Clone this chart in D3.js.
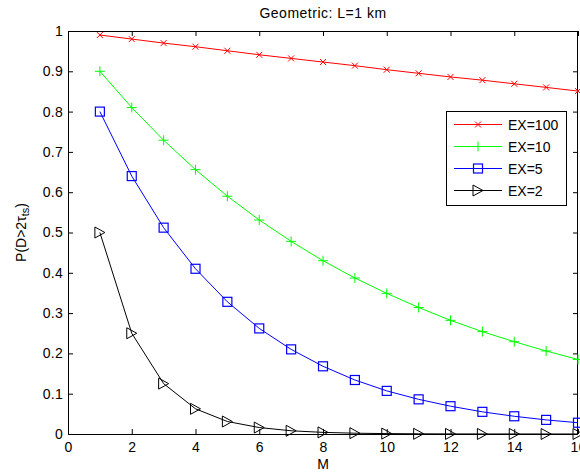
<!DOCTYPE html>
<html><head><meta charset="utf-8">
<script src="https://cdn.jsdelivr.net/npm/d3@7"></script>
<style>
html,body{margin:0;padding:0;background:#fff;}
svg{display:block;font-family:"Liberation Sans",Arial,Helvetica,sans-serif;}
</style></head>
<body>
<svg id="chart" width="580" height="475"></svg>
<script>
const M = [1,2,3,4,5,6,7,8,9,10,11,12,13,14,15,16];
const ex100 = [0.990,0.980,0.970,0.961,0.951,0.941,0.932,0.923,0.914,0.904,0.895,0.886,0.878,0.869,0.860,0.851];
const ex10  = [0.900,0.810,0.729,0.656,0.590,0.531,0.478,0.430,0.387,0.349,0.314,0.282,0.254,0.229,0.206,0.185];
const ex5   = [0.800,0.640,0.512,0.410,0.328,0.262,0.210,0.168,0.134,0.107,0.086,0.069,0.055,0.044,0.035,0.028];
const ex2   = [0.500,0.250,0.125,0.0625,0.031,0.016,0.008,0.004,0.002,0.001,0.0005,0.0002,0.0001,0.0001,0.00003,0.00002];
const seriesNames = ["EX=100","EX=10","EX=5","EX=2"];
const xTicks = [0,2,4,6,8,10,12,14,16];
const yTicks = [0,0.1,0.2,0.3,0.4,0.5,0.6,0.7,0.8,0.9,1];
const titleText = "Geometric: L=1 km";

const series = [
  {name: seriesNames[0], values: ex100, color: "#ff0000", marker: "x"},
  {name: seriesNames[1], values: ex10,  color: "#00ff00", marker: "plus"},
  {name: seriesNames[2], values: ex5,   color: "#0000ff", marker: "square"},
  {name: seriesNames[3], values: ex2,   color: "#000000", marker: "tri"}
];

const L = 68, R = 578, T = 31, B = 434;
const svg = d3.select("#chart");
svg.append("rect").attr("width",580).attr("height",475).attr("fill","#fff");

const x = d3.scaleLinear().domain([0,16]).range([L,R]);
const y = d3.scaleLinear().domain([0,1]).range([B,T]);

const fs = 14;
const g = svg.append("g");
const tickLen = 5;
const xAxisB = d3.axisBottom(x).tickValues(xTicks).tickSizeInner(-tickLen).tickSizeOuter(0).tickPadding(8).tickFormat(d3.format("d"));
const xAxisT = d3.axisTop(x).tickValues(xTicks).tickSizeInner(-tickLen).tickSizeOuter(0).tickFormat("");
const yAxisL = d3.axisLeft(y).tickValues(yTicks).tickSizeInner(-tickLen).tickSizeOuter(0).tickPadding(5).tickFormat(d => d===0||d===1 ? d3.format("d")(d) : d3.format(".1f")(d));
const yAxisR = d3.axisRight(y).tickValues(yTicks).tickSizeInner(-tickLen).tickSizeOuter(0).tickFormat("");

function style(sel){
  sel.selectAll("path.domain").remove();
  sel.selectAll("line").attr("stroke","#000").attr("stroke-width",1);
  sel.selectAll("text").attr("fill","#000").style("font-size",fs+"px").style("font-family","'Liberation Sans',Arial,sans-serif").style("letter-spacing","0.3px");
}
g.append("g").attr("transform",`translate(0,${B})`).call(xAxisB).call(style);
g.append("g").attr("transform",`translate(0,${T})`).call(xAxisT).call(style);
g.append("g").attr("transform",`translate(${L},0)`).call(yAxisL).call(style);
g.append("g").attr("transform",`translate(${R},0)`).call(yAxisR).call(style);
g.append("rect").attr("x",L+0.5).attr("y",T+0.5).attr("width",R-L-1).attr("height",B-T)
  .attr("fill","none").attr("stroke","#000").attr("stroke-width",1);

function drawMarker(sel, type, color, cx, cy){
  if(type==="x"){
    const a=3;
    sel.append("path").attr("d",`M${cx-a},${cy-a}L${cx+a},${cy+a}M${cx-a},${cy+a}L${cx+a},${cy-a}`)
      .attr("stroke",color).attr("stroke-width",1).attr("fill","none");
  } else if(type==="plus"){
    const a=5;
    sel.append("path").attr("d",`M${cx-a},${cy}L${cx+a},${cy}M${cx},${cy-a}L${cx},${cy+a}`)
      .attr("stroke",color).attr("stroke-width",1).attr("fill","none");
  } else if(type==="square"){
    const a=4.5;
    sel.append("rect").attr("x",cx-a).attr("y",cy-a).attr("width",2*a).attr("height",2*a)
      .attr("stroke",color).attr("stroke-width",1.2).attr("fill","none");
  } else if(type==="tri"){
    const w=5, h=5.5;
    sel.append("path").attr("d",`M${cx-w},${cy-h}L${cx+w},${cy}L${cx-w},${cy+h}Z`)
      .attr("stroke",color).attr("stroke-width",1).attr("fill","none");
  }
}

const line = d3.line().x(d=>x(d[0])).y(d=>y(d[1]));
series.forEach(s=>{
  const pts = M.map((m,i)=>[m,s.values[i]]);
  const sg = svg.append("g");
  sg.append("path").attr("d",line(pts)).attr("fill","none").attr("stroke",s.color).attr("stroke-width",1);
  pts.forEach(p=>drawMarker(sg, s.marker, s.color, x(p[0]), y(p[1])));
});

const lg = svg.append("g");
lg.append("rect").attr("x",446.5).attr("y",111.5).attr("width",120).attr("height",94)
  .attr("fill","#fff").attr("stroke","#000").attr("stroke-width",1);
const rowY = [124,146,168,190];
series.forEach((s,i)=>{
  const yy = rowY[i]+0.5;
  lg.append("line").attr("x1",454).attr("x2",502).attr("y1",yy).attr("y2",yy).attr("stroke",s.color).attr("stroke-width",1);
  drawMarker(lg, s.marker, s.color, 478, yy);
  lg.append("text").attr("x",508).attr("y",yy).attr("dy","0.36em").attr("fill","#000")
    .style("font-size",fs+"px").text(s.name);
});

svg.append("text").attr("x",(L+R)/2).attr("y",18).attr("text-anchor","middle").attr("fill","#000")
  .style("font-size",fs+"px").style("letter-spacing","0.5px").text(titleText);
svg.append("text").attr("x",(L+R)/2).attr("y",469).attr("text-anchor","middle").attr("fill","#000")
  .style("font-size",fs+"px").text("M");
const yl = svg.append("text").attr("transform",`translate(26,${(T+B)/2}) rotate(-90)`).attr("text-anchor","middle")
  .attr("fill","#000").style("font-size",fs+"px");
yl.append("tspan").text("P(D>2τ");
yl.append("tspan").attr("dy",3).style("font-size","11px").text("ts");
yl.append("tspan").attr("dy",-3).text(")");
</script>
</body></html>
